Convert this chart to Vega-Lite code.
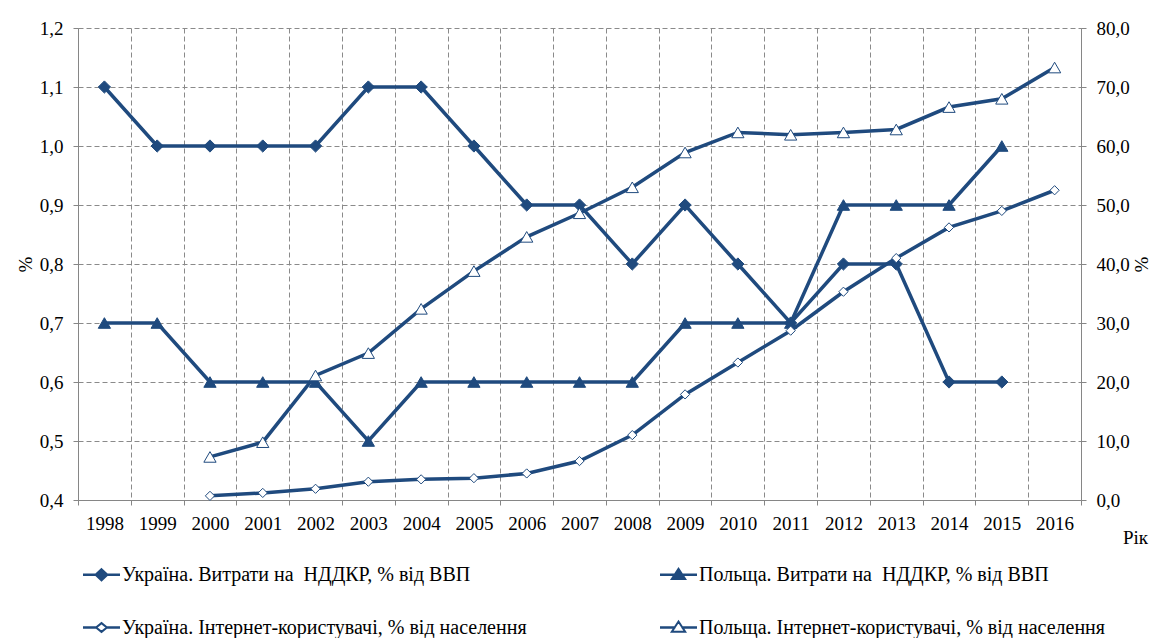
{
  "$schema": "https://vega.github.io/schema/vega-lite/v6.json",
  "width": 1003,
  "height": 472,
  "autosize": {"type": "none"},
  "padding": {"left": 78, "top": 28, "right": 76, "bottom": 138},
  "background": "white",
  "config": {
    "view": {"stroke": null},
    "axis": {
      "labelFont": "Liberation Serif", "labelFontSize": 19, "labelColor": "black",
      "titleFont": "Liberation Serif", "titleFontSize": 19, "titleFontWeight": "normal", "titleColor": "black",
      "domainColor": "#868686", "tickColor": "#868686", "tickSize": 5,
      "gridColor": "#8a8a8a", "gridDash": [5, 3], "gridWidth": 1
    },
    "legend": {
      "title": null, "orient": "none", "legendX": 5, "legendY": 528, "direction": "horizontal", "columns": 2,
      "columnPadding": 130, "rowPadding": 24, "padding": 0, "symbolSize": 1225,
      "symbolStrokeWidth": 2, "symbolStrokeColor": "#1F4A7E", "symbolOpacity": 1,
      "labelFont": "Liberation Serif", "labelFontSize": 20, "labelColor": "black", "labelOffset": 2, "labelLimit": 0
    }
  },
  "data": {"values": [
    {"year": 1998, "series": "UA_RD", "value": 1.1},
    {"year": 1999, "series": "UA_RD", "value": 1.0},
    {"year": 2000, "series": "UA_RD", "value": 1.0},
    {"year": 2001, "series": "UA_RD", "value": 1.0},
    {"year": 2002, "series": "UA_RD", "value": 1.0},
    {"year": 2003, "series": "UA_RD", "value": 1.1},
    {"year": 2004, "series": "UA_RD", "value": 1.1},
    {"year": 2005, "series": "UA_RD", "value": 1.0},
    {"year": 2006, "series": "UA_RD", "value": 0.9},
    {"year": 2007, "series": "UA_RD", "value": 0.9},
    {"year": 2008, "series": "UA_RD", "value": 0.8},
    {"year": 2009, "series": "UA_RD", "value": 0.9},
    {"year": 2010, "series": "UA_RD", "value": 0.8},
    {"year": 2011, "series": "UA_RD", "value": 0.7},
    {"year": 2012, "series": "UA_RD", "value": 0.8},
    {"year": 2013, "series": "UA_RD", "value": 0.8},
    {"year": 2014, "series": "UA_RD", "value": 0.6},
    {"year": 2015, "series": "UA_RD", "value": 0.6},
    {"year": 1998, "series": "PL_RD", "value": 0.7},
    {"year": 1999, "series": "PL_RD", "value": 0.7},
    {"year": 2000, "series": "PL_RD", "value": 0.6},
    {"year": 2001, "series": "PL_RD", "value": 0.6},
    {"year": 2002, "series": "PL_RD", "value": 0.6},
    {"year": 2003, "series": "PL_RD", "value": 0.5},
    {"year": 2004, "series": "PL_RD", "value": 0.6},
    {"year": 2005, "series": "PL_RD", "value": 0.6},
    {"year": 2006, "series": "PL_RD", "value": 0.6},
    {"year": 2007, "series": "PL_RD", "value": 0.6},
    {"year": 2008, "series": "PL_RD", "value": 0.6},
    {"year": 2009, "series": "PL_RD", "value": 0.7},
    {"year": 2010, "series": "PL_RD", "value": 0.7},
    {"year": 2011, "series": "PL_RD", "value": 0.7},
    {"year": 2012, "series": "PL_RD", "value": 0.9},
    {"year": 2013, "series": "PL_RD", "value": 0.9},
    {"year": 2014, "series": "PL_RD", "value": 0.9},
    {"year": 2015, "series": "PL_RD", "value": 1.0},
    {"year": 2000, "series": "UA_NET", "value": 0.7},
    {"year": 2001, "series": "UA_NET", "value": 1.2},
    {"year": 2002, "series": "UA_NET", "value": 1.9},
    {"year": 2003, "series": "UA_NET", "value": 3.1},
    {"year": 2004, "series": "UA_NET", "value": 3.5},
    {"year": 2005, "series": "UA_NET", "value": 3.7},
    {"year": 2006, "series": "UA_NET", "value": 4.5},
    {"year": 2007, "series": "UA_NET", "value": 6.6},
    {"year": 2008, "series": "UA_NET", "value": 11.0},
    {"year": 2009, "series": "UA_NET", "value": 17.9},
    {"year": 2010, "series": "UA_NET", "value": 23.3},
    {"year": 2011, "series": "UA_NET", "value": 28.7},
    {"year": 2012, "series": "UA_NET", "value": 35.3},
    {"year": 2013, "series": "UA_NET", "value": 41.0},
    {"year": 2014, "series": "UA_NET", "value": 46.2},
    {"year": 2015, "series": "UA_NET", "value": 49.0},
    {"year": 2016, "series": "UA_NET", "value": 52.5},
    {"year": 2000, "series": "PL_NET", "value": 7.3},
    {"year": 2001, "series": "PL_NET", "value": 9.8},
    {"year": 2002, "series": "PL_NET", "value": 21.1},
    {"year": 2003, "series": "PL_NET", "value": 24.9},
    {"year": 2004, "series": "PL_NET", "value": 32.4},
    {"year": 2005, "series": "PL_NET", "value": 38.8},
    {"year": 2006, "series": "PL_NET", "value": 44.6},
    {"year": 2007, "series": "PL_NET", "value": 48.6},
    {"year": 2008, "series": "PL_NET", "value": 53.0},
    {"year": 2009, "series": "PL_NET", "value": 58.9},
    {"year": 2010, "series": "PL_NET", "value": 62.3},
    {"year": 2011, "series": "PL_NET", "value": 61.9},
    {"year": 2012, "series": "PL_NET", "value": 62.3},
    {"year": 2013, "series": "PL_NET", "value": 62.8},
    {"year": 2014, "series": "PL_NET", "value": 66.6},
    {"year": 2015, "series": "PL_NET", "value": 68.0},
    {"year": 2016, "series": "PL_NET", "value": 73.3}
  ]},
  "encoding": {
    "x": {
      "field": "year", "type": "quantitative",
      "scale": {"domain": [1997.5, 2016.5], "nice": false, "zero": false},
      "axis": {
        "values": [1997.5, 1998.5, 1999.5, 2000.5, 2001.5, 2002.5, 2003.5, 2004.5, 2005.5, 2006.5, 2007.5, 2008.5, 2009.5, 2010.5, 2011.5, 2012.5, 2013.5, 2014.5, 2015.5, 2016.5],
        "labelExpr": "datum.value > 2016 ? '' : toString(datum.value + 0.5)",
        "labelOffset": 26.4, "labelPadding": 9, "labelFlush": false, "labelOverlap": false, "labelBound": false,
        "grid": true,
        "title": "Рік", "titleX": 1057, "titleY": 28, "titleAlign": "center", "titleBaseline": "top"
      }
    }
  },
  "layer": [
    {
      "transform": [{"filter": {"field": "series", "oneOf": ["UA_RD", "PL_RD"]}}],
      "encoding": {
        "y": {
          "field": "value", "type": "quantitative",
          "scale": {"domain": [0.4, 1.2], "nice": false, "zero": false},
          "axis": {
            "orient": "left",
            "values": [0.4, 0.5, 0.6, 0.7, 0.8, 0.9, 1.0, 1.1, 1.2],
            "labelExpr": "replace(format(datum.value, '.1f'), '.', ',')",
            "labelPadding": 10, "grid": true,
            "title": "%", "titlePadding": 4
          }
        }
      },
      "layer": [
        {
          "mark": {"type": "line", "color": "#1F4A7E", "strokeWidth": 3.5},
          "encoding": {"detail": {"field": "series"}}
        },
        {
          "mark": {"type": "point", "filled": true, "opacity": 1, "stroke": "#1F4A7E", "strokeWidth": 1},
          "encoding": {
            "shape": {"condition": {"test": "datum.series === 'PL_RD'", "value": "triangle-up"}, "value": "diamond"},
            "fill": {"value": "#1F4A7E"},
            "size": {"value": 150}
          }
        },
        {
          "transform": [{"filter": {"field": "value", "lt": 0}}],
          "mark": {"type": "point", "filled": true, "strokeWidth": 2},
          "encoding": {
            "shape": {
              "field": "series", "type": "nominal",
              "scale": {
                "domain": ["UA_RD", "PL_RD", "UA_NET", "PL_NET"],
                "range": [
                  "M-1,-0.02H1V0.02H-1Z M0,-0.32L0.34,0L0,0.32L-0.34,0Z",
                  "M-1,-0.02H1V0.02H-1Z M0,-0.34L0.38,0.24L-0.38,0.24Z",
                  "M-1,-0.02H-0.31V0.02H-1Z M0.31,-0.02H1V0.02H0.31Z M0,-0.25L0.31,0L0,0.25L-0.31,0Z",
                  "M-1,-0.02H-0.24V0.02H-1Z M0.24,-0.02H1V0.02H0.24Z M0,-0.34L0.38,0.24L-0.38,0.24Z"
                ]
              },
              "legend": {
                "labelExpr": "datum.value === 'UA_RD' ? 'Україна. Витрати на \u00a0НДДКР, % від ВВП' : datum.value === 'PL_RD' ? 'Польща. Витрати на \u00a0НДДКР, % від ВВП' : datum.value === 'UA_NET' ? 'Україна. Інтернет-користувачі, % від населення' : 'Польща. Інтернет-користувачі, % від населення'"
              }
            },
            "fill": {
              "field": "series", "type": "nominal",
              "scale": {"domain": ["UA_RD", "PL_RD", "UA_NET", "PL_NET"], "range": ["#1F4A7E", "#1F4A7E", "white", "white"]},
              "legend": {
                "labelExpr": "datum.value === 'UA_RD' ? 'Україна. Витрати на \u00a0НДДКР, % від ВВП' : datum.value === 'PL_RD' ? 'Польща. Витрати на \u00a0НДДКР, % від ВВП' : datum.value === 'UA_NET' ? 'Україна. Інтернет-користувачі, % від населення' : 'Польща. Інтернет-користувачі, % від населення'"
              }
            },
            "stroke": {
              "field": "series", "type": "nominal",
              "scale": {"domain": ["UA_RD", "PL_RD", "UA_NET", "PL_NET"], "range": ["#1F4A7E", "#1F4A7E", "#1F4A7E", "#1F4A7E"]},
              "legend": {
                "labelExpr": "datum.value === 'UA_RD' ? 'Україна. Витрати на \u00a0НДДКР, % від ВВП' : datum.value === 'PL_RD' ? 'Польща. Витрати на \u00a0НДДКР, % від ВВП' : datum.value === 'UA_NET' ? 'Україна. Інтернет-користувачі, % від населення' : 'Польща. Інтернет-користувачі, % від населення'"
              }
            }
          }
        }
      ]
    },
    {
      "transform": [{"filter": {"field": "series", "oneOf": ["UA_NET", "PL_NET"]}}],
      "encoding": {
        "y": {
          "field": "value", "type": "quantitative",
          "scale": {"domain": [0, 80], "nice": false, "zero": false},
          "axis": {
            "orient": "right",
            "values": [0, 10, 20, 30, 40, 50, 60, 70, 80],
            "labelExpr": "replace(format(datum.value, '.1f'), '.', ',')",
            "labelPadding": 10, "grid": false,
            "title": "%", "titlePadding": 3, "titleAngle": -90, "titleBaseline": "top"
          }
        }
      },
      "layer": [
        {
          "mark": {"type": "line", "color": "#1F4A7E", "strokeWidth": 3.5},
          "encoding": {"detail": {"field": "series"}}
        },
        {
          "mark": {"type": "point", "filled": true, "opacity": 1, "stroke": "#1F4A7E", "strokeWidth": 1},
          "encoding": {
            "shape": {"condition": {"test": "datum.series === 'PL_NET'", "value": "triangle-up"}, "value": "diamond"},
            "fill": {"value": "white"},
            "size": {"condition": {"test": "datum.series === 'UA_NET'", "value": 85}, "value": 150}
          }
        }
      ]
    }
  ],
  "resolve": {"scale": {"y": "independent"}}
}
